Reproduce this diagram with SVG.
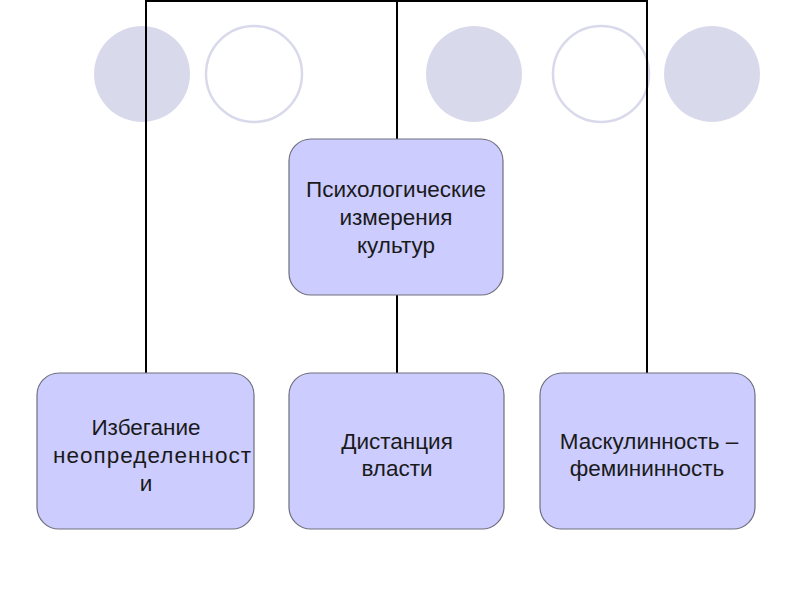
<svg xmlns="http://www.w3.org/2000/svg" width="800" height="600" viewBox="0 0 800 600">
<style>
.dot{fill:#D9D9EC}
.ring{fill:none;stroke:#D9D9EC;stroke-width:2.5}
.conn{stroke:#000;stroke-width:2;fill:none}
.node{fill:#CCCCFF;stroke:#6E6E7E;stroke-width:1.2}
.lbl{font-family:"Liberation Sans",Arial,sans-serif;font-size:22.5px;fill:#1a1a1a;text-anchor:middle}
</style>
<rect width="800" height="600" fill="#fff"/>
<g id="decor">
<circle class="dot" cx="142" cy="74" r="48"/>
<circle class="ring" cx="254" cy="74" r="48"/>
<circle class="dot" cx="474" cy="74" r="48"/>
<circle class="ring" cx="601" cy="74" r="48"/>
<circle class="dot" cx="712" cy="74" r="48"/>
</g>
<g id="connectors">
<path class="conn" d="M146,373 V1 H647 V373"/>
<path class="conn" d="M397,1 V139"/>
<path class="conn" d="M397,295 V373"/>
</g>
<g id="root">
<rect class="node" x="289" y="139" width="214" height="156" rx="22"/>
<text class="lbl" x="396" y="197">Психологические</text>
<text class="lbl" x="396" y="225">измерения</text>
<text class="lbl" x="396" y="253">культур</text>
</g>
<g id="n1">
<rect class="node" x="37" y="373" width="217" height="156" rx="22"/>
<text class="lbl" x="146" y="435">Избегание</text>
<text class="lbl" x="152" y="463" textLength="198" lengthAdjust="spacing">неопределенност</text>
<text class="lbl" x="146" y="491">и</text>
</g>
<g id="n2">
<rect class="node" x="289" y="373" width="215" height="156" rx="22"/>
<text class="lbl" x="397" y="449">Дистанция</text>
<text class="lbl" x="397" y="476">власти</text>
</g>
<g id="n3">
<rect class="node" x="540" y="373" width="215" height="156" rx="22"/>
<text class="lbl" x="649" y="449">Маскулинность –</text>
<text class="lbl" x="647" y="476">фемининность</text>
</g>
</svg>
